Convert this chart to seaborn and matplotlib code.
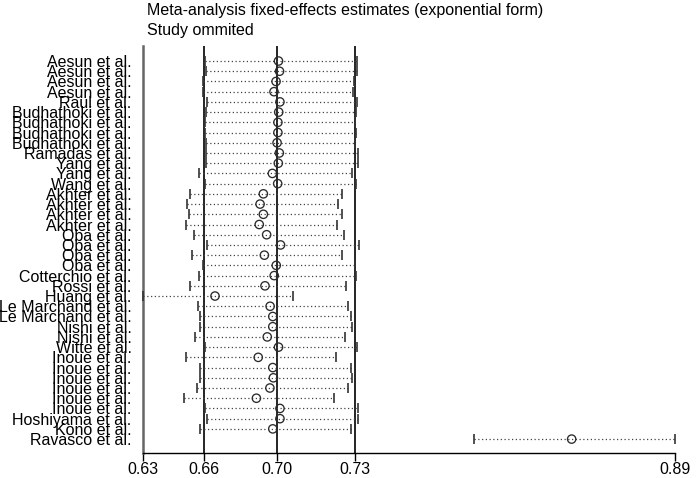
import matplotlib
matplotlib.use("Agg")
import matplotlib.pyplot as plt
import seaborn as sns
import pandas as pd
import numpy as np

# ---------------- data ----------------
studies = [
    "Aesun et al.", "Aesun et al.", "Aesun et al.", "Aesun et al.",
    "Raul et al.",
    "Budhathoki et al.", "Budhathoki et al.", "Budhathoki et al.", "Budhathoki et al.",
    "Ramadas et al.", "Yang et al.", "Yang et al.", "Wang et al.",
    "Akhter et al.", "Akhter et al.", "Akhter et al.", "Akhter et al.",
    "Oba et al.", "Oba et al.", "Oba et al.", "Oba et al.",
    "Cotterchio et al.", "Rossi et al.", "Huang et al.",
    "Le Marchand et al.", "Le Marchand et al.", "Nishi et al.", "Nishi et al.",
    "Witte et al.",
    "Inoue et al.", "Inoue et al.", "Inoue et al.", "Inoue et al.", "Inoue et al.", "Inoue et al.",
    "Hoshiyama et al.", "Kono et al.", "Ravasco et al.",
]
estimate = [0.6963, 0.6968, 0.6951, 0.6941, 0.6970, 0.6964, 0.6960, 0.6960, 0.6956,
            0.6967, 0.6962, 0.6933, 0.6959, 0.6889, 0.6873, 0.6889, 0.6869,
            0.6905, 0.6973, 0.6894, 0.6952, 0.6942, 0.6897, 0.6653,
            0.6922, 0.6935, 0.6935, 0.6908, 0.6963,
            0.6864, 0.6935, 0.6938, 0.6921, 0.6855, 0.6970,
            0.6970, 0.6935, 0.8394]
lower = [0.6604, 0.6607, 0.6594, 0.6593, 0.6612, 0.6608, 0.6604, 0.6604, 0.6609,
         0.6609, 0.6608, 0.6575, 0.6604, 0.6531, 0.6518, 0.6527, 0.6511,
         0.6548, 0.6616, 0.6541, 0.6596, 0.6576, 0.6531, 0.6300,
         0.6568, 0.6580, 0.6582, 0.6555, 0.6605,
         0.6510, 0.6578, 0.6582, 0.6567, 0.6503, 0.6604,
         0.6612, 0.6580, 0.7916]
upper = [0.7344, 0.7346, 0.7330, 0.7328, 0.7346, 0.7340, 0.7336, 0.7340, 0.7336,
         0.7350, 0.7353, 0.7322, 0.7340, 0.7274, 0.7255, 0.7274, 0.7250,
         0.7285, 0.7356, 0.7274, 0.7334, 0.7340, 0.7291, 0.7034,
         0.7304, 0.7316, 0.7320, 0.7290, 0.7344,
         0.7244, 0.7316, 0.7322, 0.7303, 0.7235, 0.7351,
         0.7349, 0.7316, 0.8900]
overall_est = 0.6957
overall_lower = 0.6599
overall_upper = 0.7335
title_lines = ["Meta-analysis fixed-effects estimates (exponential form)", "Study ommited"]

# ---------------- plot ----------------
sns.set_style("white")
plt.rcParams["font.family"] = ["Liberation Sans", "DejaVu Sans"]
plt.rcParams["text.color"] = "black"
plt.rcParams["xtick.color"] = "black"
plt.rcParams["ytick.color"] = "black"

df = pd.DataFrame({"study": studies, "est": estimate, "lower": lower, "upper": upper})
df["row"] = np.arange(len(df))

W, H = 697, 478
fig = plt.figure(figsize=(W / 100, H / 100), dpi=100)
left_px, right_px, top_px, bot_px = 142.7, 675.3, 46, 453.3
ax = fig.add_axes([left_px / W, 1 - bot_px / H, (right_px - left_px) / W, (bot_px - top_px) / H])

# reference lines
for v in (overall_lower, overall_est, overall_upper):
    ax.axvline(v, color="black", lw=1.2, zorder=1)

# CI dotted lines
ax.hlines(df["row"], df["lower"], df["upper"], colors="#444444",
          linestyles=(0, (1, 2)), lw=0.9, zorder=2)
# CI end ticks
ax.plot(df["lower"], df["row"], ls="none", marker="|", ms=7.4, mew=1.2,
        color="#333333", clip_on=False, zorder=3)
ax.plot(df["upper"], df["row"], ls="none", marker="|", ms=7.4, mew=1.2,
        color="#333333", clip_on=False, zorder=3)

# point estimates
sns.scatterplot(data=df, x="est", y="row", marker="o", s=36, ax=ax, zorder=4, legend=False)
coll = ax.collections[-1]
coll.set_facecolor("none")
coll.set_edgecolor("#2a2a2a")
coll.set_linewidth(0.95)

xmin, xmax = min(lower), max(upper)
ax.set_xlim(xmin, xmax)
ax.set_ylim(len(df) - 1 + 1.39, -1.47)

ticks = [xmin, overall_lower, overall_est, overall_upper, xmax]
ax.set_xticks(ticks)
ax.set_xticklabels([f"{t:.2f}" for t in ticks])
ax.set_yticks(df["row"])
ax.set_yticklabels(df["study"])
ax.set_xlabel("")
ax.set_ylabel("")

ax.tick_params(axis="x", length=5.8, width=1.0, color="black", pad=0.5,
               labelsize=11.5, bottom=True, labelcolor="black")
ax.tick_params(axis="y", length=0, pad=7.9, labelsize=11.5, labelcolor="black")

for s in ("top", "right"):
    ax.spines[s].set_visible(False)
ax.spines["left"].set_color("#666666")
ax.spines["left"].set_linewidth(1.8)
ax.spines["bottom"].set_color("black")
ax.spines["bottom"].set_linewidth(1.0)

fig.text(146.7 / W, 1 - 14.5 / H, title_lines[0], ha="left", va="baseline",
         fontsize=11.5, color="black")
fig.text(146.7 / W, 1 - 35 / H, title_lines[1], ha="left", va="baseline",
         fontsize=11.5, color="black")

fig.savefig("out.png", dpi=100)
